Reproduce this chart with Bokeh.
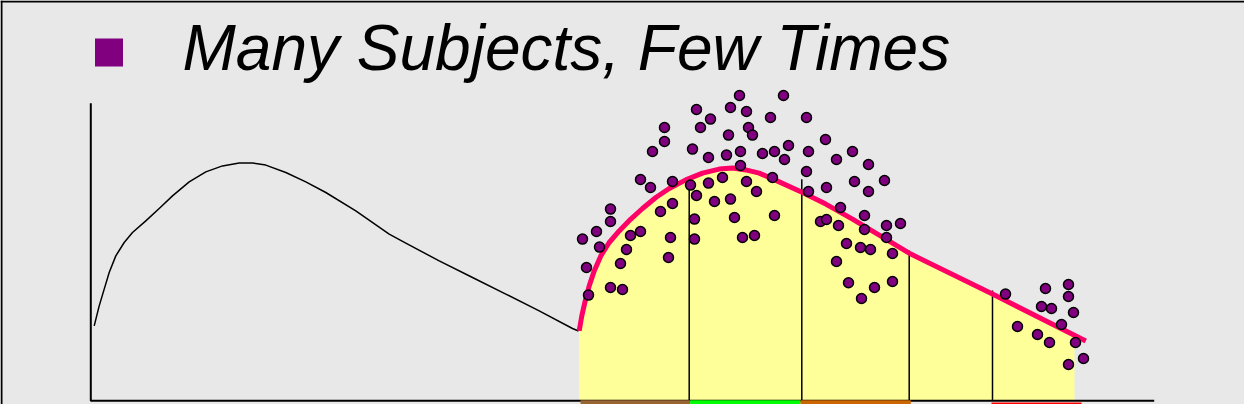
from bokeh.plotting import figure
from bokeh.models import Range1d
from bokeh.core.properties import value
from bokeh.embed import file_html
from bokeh.resources import INLINE
import numpy as np

# ---------------- data ----------------
label = "Many Subjects, Few Times"

# population curve (whole time span, black)
pop_time = [0.37, 0.87, 1.37, 1.87, 2.53, 3.37, 4.2, 5.53, 6.87, 8.2, 9.87, 11.53, 13.2,
            14.87, 16.2, 17.53, 19.53, 21.53, 23.53, 26.53, 29.87, 31.53, 34.87, 38.2,
            41.53, 44.87, 48.2, 48.8]
pop_value = [37.3, 47.3, 55.7, 64.0, 72.3, 79.0, 84.0, 89.8, 96.0, 102.3, 109.3, 114.3, 117.3,
             118.8, 118.8, 117.7, 114.0, 109.3, 104.0, 94.8, 83.2, 78.7, 69.8, 61.5,
             53.2, 44.8, 36.0, 34.75]

# sampled-period mean curve (pink)
mean_time = [48.87, 49.13, 49.47, 49.87, 50.37, 51.03, 51.87, 52.87, 54.03, 55.2, 56.53,
             57.87, 59.53, 61.2, 62.87, 64.2, 65.53, 66.87, 68.87, 71.2, 73.53, 76.2,
             78.87, 82.03, 90.2, 99.53]
mean_value = [34.8, 42.3, 49.8, 57.3, 64.8, 72.3, 79.0, 84.8, 90.7, 96.0, 101.5,
              106.0, 110.3, 113.7, 115.7, 116.2, 115.3, 113.7, 109.3, 104.0, 98.2, 90.7,
              82.7, 73.2, 53.2, 29.8]
fill_end = 98.4

# observations (subjects)
obs_time = [49.2, 49.6, 49.8, 50.6, 50.9, 52.0, 52.0, 52.0, 53.2, 53.0, 53.6, 54.0, 55.0,
            55.0, 56.0, 56.2, 57.4, 57.4, 57.0, 58.2, 58.2, 58.0, 57.8, 60.0, 60.2, 60.6,
            61.0, 62.0, 61.8, 61.8, 60.6, 60.4, 60.4, 62.4, 63.2, 63.6, 63.8, 64.0, 64.9,
            65.6, 65.8, 66.2, 65.0, 65.0, 65.6, 66.6, 64.0, 64.4, 65.2, 66.4, 67.2, 68.0,
            68.4, 68.2, 68.4, 69.4, 69.8, 69.3, 71.6, 71.8, 71.6, 71.8, 73.5, 74.6, 73.6,
            73.0, 73.6, 75.0, 74.8, 74.6, 75.6, 75.8, 76.2, 76.4, 77.8, 77.8, 77.4, 77.4,
            77.0, 78.0, 77.1, 78.4, 79.4, 79.6, 79.6, 80.2, 80.2, 81.0,
            91.5, 92.7, 94.7, 95.1, 95.5, 96.1, 95.9, 97.1, 97.8, 97.8, 98.3, 98.5, 97.8, 99.3]
obs_value = [80.7, 66.5, 52.7, 84.5, 76.7, 95.7, 89.5, 56.5, 55.5, 68.5, 75.5, 82.5, 84.5,
             110.5, 106.5, 124.5, 136.5, 129.5, 94.5, 109.5, 98.5, 81.5, 71.5, 107.7, 125.7, 145.5,
             136.5, 140.7, 121.5, 108.7, 102.5, 90.7, 80.7, 99.5, 111.5, 122.7, 132.7, 146.5, 152.5,
             144.5, 136.5, 132.7, 124.5, 117.5, 109.5, 104.5, 100.7, 91.5, 81.5, 82.5, 123.5, 141.5,
             124.5, 111.5, 92.5, 120.5, 127.5, 152.5, 141.5, 124.5, 114.5, 104.5, 130.5, 120.5, 106.5,
             89.5, 90.5, 96.5, 87.5, 69.5, 78.5, 58.9, 124.5, 109.5, 118.0, 104.5, 92.5, 85.5,
             76.5, 75.5, 51.0, 56.5, 110.0, 87.5, 81.5, 73.5, 59.5, 88.5,
             53.2, 37.0, 33.0, 47.0, 56.0, 46.0, 29.0, 38.0, 58.0, 52.0, 44.0, 29.0, 18.0, 21.0]

# sampling-time dividers
div_time = [59.87, 71.13, 81.87, 90.2]
div_top = [110.0, 110.65, 75.0, 55.0]

# colored period bars
bar_left = [49.0, 59.97, 71.0, 90.1]
bar_right = [59.97, 71.0, 82.03, 99.1]
bar_top = [0.15, 0.15, 0.15, -1.0]
bar_colors = ["#996633", "#00FF00", "#CC6600", "#FF0000"]

# axes extent
axis_x = [0.03, 0.03, 106.37]
axis_y = [148.65, -0.15, -0.15]

BG = "#E8E8E8"

p = figure(width=1244, height=404, output_backend="svg", toolbar_location=None,
           x_range=Range1d(-9.0, 115.4), y_range=Range1d(-2.0, 200.0),
           min_border=0, x_axis_location=None, y_axis_location=None,
           background_fill_color=BG, border_fill_color=BG)
p.xgrid.visible = False
p.ygrid.visible = False
p.outline_line_color = None

# frame borders (top, left)
p.line([-9.0, 115.4], [199.5, 199.5], line_color="black", line_width=2)
p.line([-8.9, -8.9], [-2.0, 200.0], line_color="black", line_width=2)

# bullet + heading
p.scatter([1.85], [174.0], marker="square", size=28, fill_color="#800080", line_color=None)
p.text(x=[9.2], y=[176.3], text=[label], text_font=value("Liberation Sans"),
       text_font_style="italic", text_font_size="64px", text_baseline="alphabetic",
       text_align="left", text_color="black")

# yellow area under mean curve
mt = np.array(mean_time)
mv = np.array(mean_value)
keep = mt <= fill_end
fx = list(mt[keep]) + [fill_end]
fy = list(mv[keep]) + [float(np.interp(fill_end, mt, mv))]
p.varea(x=fx, y1=[0] * len(fx), y2=fy, fill_color="#FFFF99")

# axes
p.line(axis_x, axis_y, line_color="black", line_width=2)

# period bars
p.quad(left=bar_left, right=bar_right, top=bar_top, bottom=[-6] * 4,
       fill_color=bar_colors, line_color=None)

# dividers
for t, top in zip(div_time, div_top):
    p.line([t, t], [0.3, top], line_color="black", line_width=1.5)

# population curve
p.line(pop_time, pop_value, line_color="black", line_width=1.5, line_join="round")

# mean curve
p.line(mean_time, mean_value, line_color="#FF0066", line_width=5, line_join="round")

# observations
p.scatter(obs_time, obs_value, marker="circle", size=10, fill_color="#800080",
          line_color="black", line_width=1.5)

open("out.html", "w").write(file_html(p, INLINE))
